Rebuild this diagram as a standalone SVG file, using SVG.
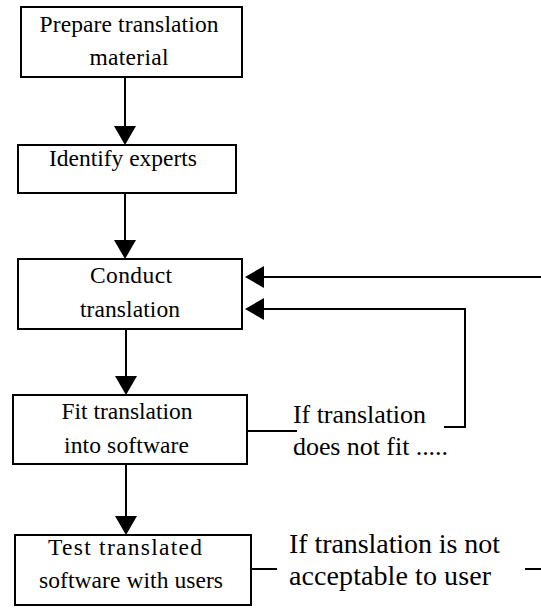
<svg xmlns="http://www.w3.org/2000/svg" width="541" height="609" viewBox="0 0 541 609">
<style>
.box{fill:#fff;stroke:#000;stroke-width:2}
.t{font-size:23.5px;text-anchor:middle}
.c{fill:none;stroke:#000;stroke-width:2}
</style>
<defs>
<marker id="ah" viewBox="0 0 19 22" refX="14" refY="11" markerWidth="19" markerHeight="22" markerUnits="userSpaceOnUse" orient="auto">
<polygon points="0,0 19,11 0,22" fill="#000"/>
</marker>
</defs>
<rect width="541" height="609" fill="#fff"/>
<g id="connectors">
<line class="c" x1="125" y1="77" x2="125" y2="140" marker-end="url(#ah)"/>
<line class="c" x1="125" y1="193" x2="125" y2="254" marker-end="url(#ah)"/>
<line class="c" x1="126" y1="329" x2="126" y2="390" marker-end="url(#ah)"/>
<line class="c" x1="126" y1="464" x2="126" y2="530" marker-end="url(#ah)"/>
<line class="c" x1="541" y1="277" x2="250" y2="277" marker-end="url(#ah)"/>
<polyline class="c" points="444,427 465,427 465,309 250,309" marker-end="url(#ah)"/>
<line class="c" x1="247" y1="431" x2="297" y2="431"/>
<line class="c" x1="251" y1="569" x2="277" y2="569"/>
<line class="c" x1="525" y1="569" x2="541" y2="569"/>
</g>
<g font-family="'Liberation Serif', 'Times New Roman', serif" fill="#000">
<g id="n1">
<rect class="box" x="21" y="7" width="221" height="70"/>
<text class="t" x="129" y="32" textLength="179">Prepare translation</text>
<text class="t" x="129" y="65" textLength="79">material</text>
</g>
<g id="n2">
<rect class="box" x="18" y="145" width="218" height="48"/>
<text class="t" x="123" y="166" textLength="148">Identify experts</text>
</g>
<g id="n3">
<rect class="box" x="18" y="259" width="224" height="70"/>
<text class="t" x="131" y="283" textLength="82">Conduct</text>
<text class="t" x="130" y="317" textLength="100">translation</text>
</g>
<g id="n4">
<rect class="box" x="13" y="395" width="234" height="69"/>
<text class="t" x="127" y="419" textLength="131">Fit translation</text>
<text class="t" x="126.5" y="453" textLength="125">into software</text>
</g>
<g id="n5">
<rect class="box" x="15" y="535" width="236" height="70"/>
<text class="t" x="125" y="555" textLength="154">Test translated</text>
<text class="t" x="131" y="588" textLength="184">software with users</text>
</g>
<g id="label1">
<text x="293" y="423" font-size="26" textLength="133">If translation</text>
<text x="293" y="455" font-size="26" textLength="155">does not fit .....</text>
</g>
<g id="label2">
<text x="289" y="553" font-size="28" textLength="211">If translation is not</text>
<text x="289" y="585" font-size="28" textLength="202">acceptable to user</text>
</g>
</g>
</svg>
